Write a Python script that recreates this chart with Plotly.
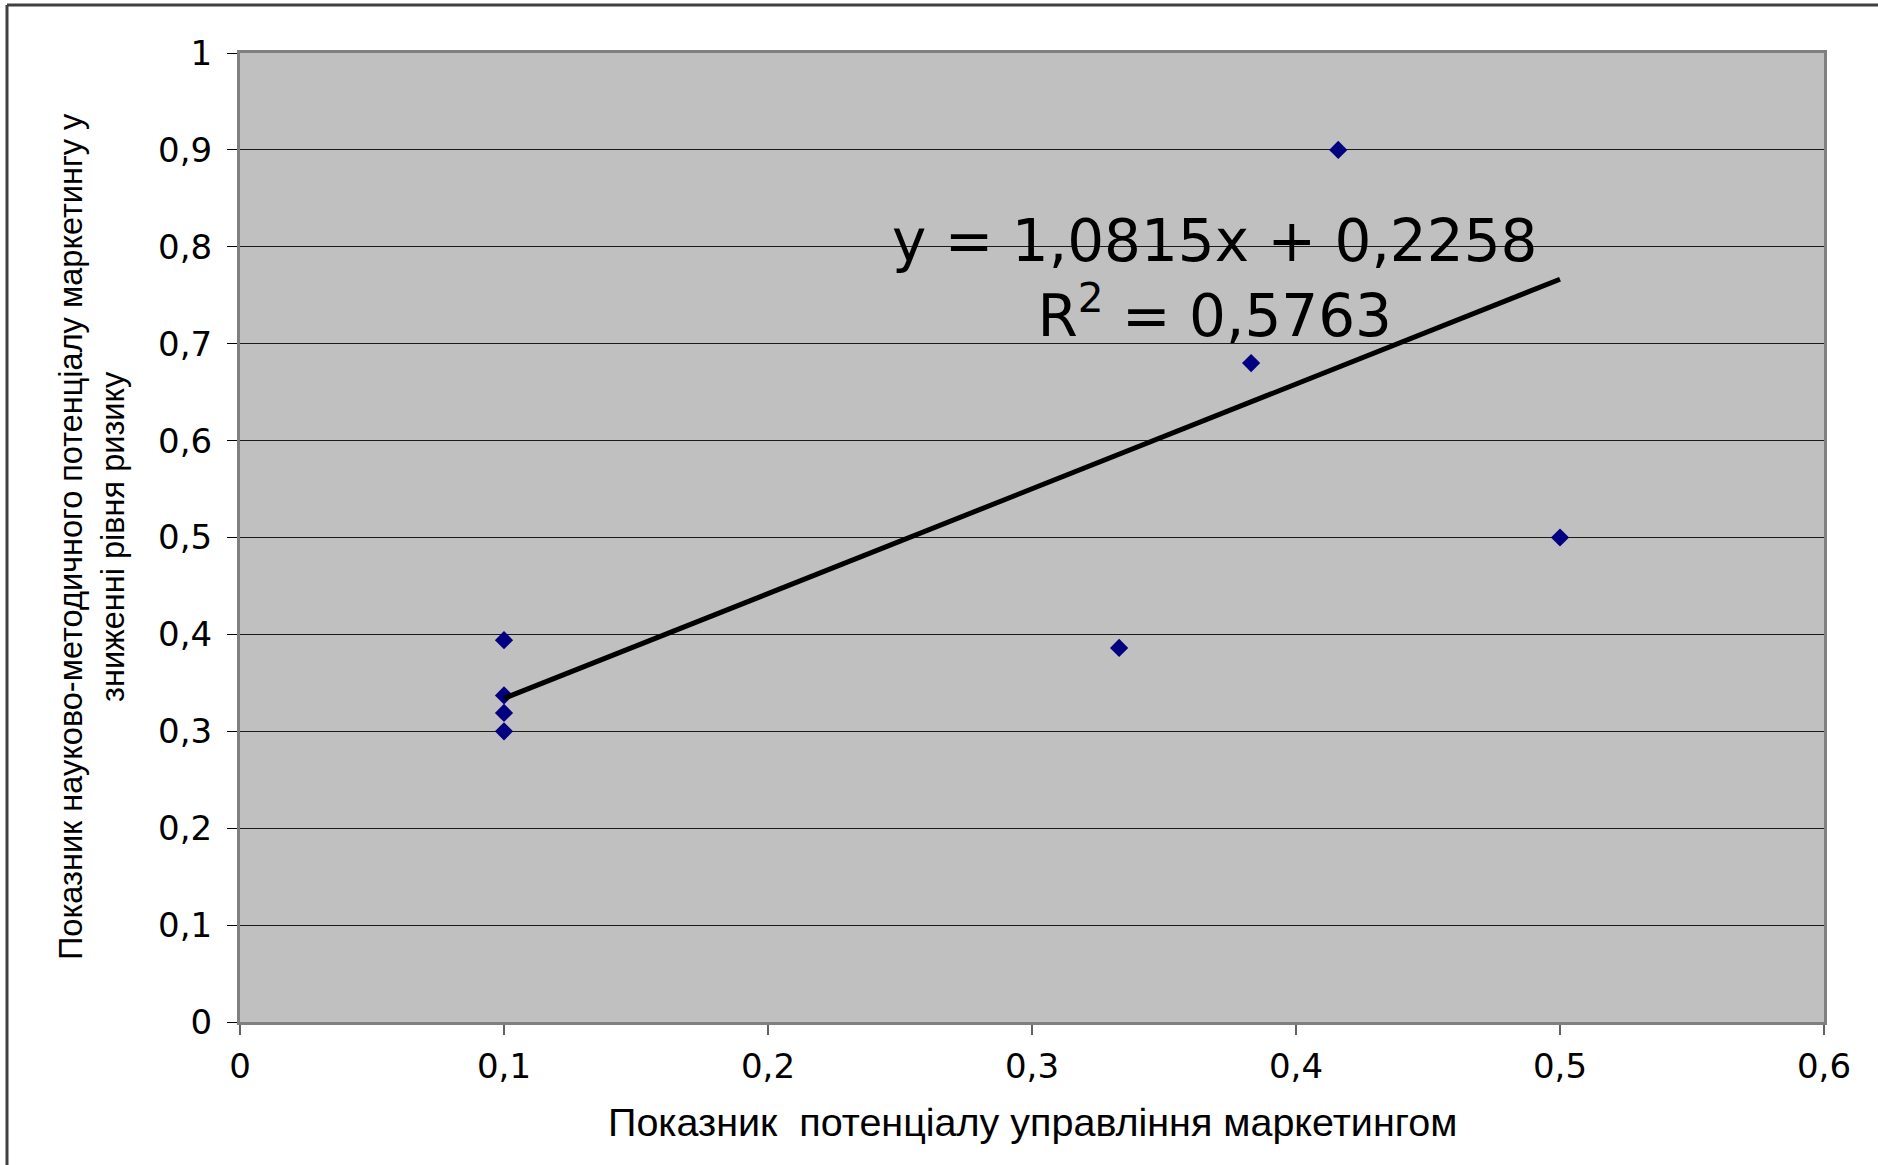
import plotly.graph_objects as go

# Observed points: management-potential index vs. scientific-methodical potential index
x_values = [0.1, 0.1, 0.1, 0.1, 0.333, 0.383, 0.416, 0.5]
y_values = [0.394, 0.337, 0.319, 0.300, 0.386, 0.680, 0.900, 0.500]

# Linear trend reported on the chart
trend_slope = 1.0815
trend_intercept = 0.2258
trend_r2 = 0.5763
trend_x = [min(x_values), max(x_values)]
trend_y = [trend_slope * v + trend_intercept for v in trend_x]

x_ticks = [0, 0.1, 0.2, 0.3, 0.4, 0.5, 0.6]
y_ticks = [0, 0.1, 0.2, 0.3, 0.4, 0.5, 0.6, 0.7, 0.8, 0.9, 1]

x_title = "Показник  потенціалу управління маркетингом"
y_title = "Показник науково-методичного потенціалу маркетингу у<br>зниженні рівня ризику"

W, H = 1878, 1165
L, R, T, B = 240, 54, 53, 143
PW, PH = W - L - R, H - T - B


def px_x(p):
    return (p - L) / PW


def px_y(p):
    return (H - B - p) / PH


fmt = lambda v: f"{v:.4f}".replace(".", ",")

fig = go.Figure()
fig.add_trace(go.Scatter(
    x=x_values, y=y_values, mode="markers",
    marker=dict(symbol="diamond", size=14, color="#000080",
                line=dict(width=0)),
    showlegend=False, hoverinfo="x+y",
))
fig.add_trace(go.Scatter(
    x=trend_x, y=trend_y, mode="lines",
    line=dict(color="black", width=5),
    showlegend=False, hoverinfo="skip",
))

fig.update_layout(
    width=W, height=H,
    margin=dict(l=L, r=R, t=T, b=B, pad=0),
    paper_bgcolor="white",
    plot_bgcolor="#C0C0C0",
    separators=", ",
    font=dict(family="DejaVu Sans", color="black"),
    xaxis=dict(
        range=[0, 0.6], tickvals=x_ticks, showgrid=False, zeroline=False,
        showline=True, mirror=True, linecolor="#808080", linewidth=3,
        ticks="outside", ticklen=10, tickwidth=1.5, tickcolor="#606060",
        tickfont=dict(family="DejaVu Sans", size=34, color="black"),
        ticklabelstandoff=2,
    ),
    yaxis=dict(
        range=[0, 1], tickvals=y_ticks, showgrid=True, gridcolor="#1a1a1a",
        gridwidth=1.2, zeroline=False,
        showline=True, mirror=True, linecolor="#808080", linewidth=3,
        ticks="outside", ticklen=10, tickwidth=1.2, tickcolor="black",
        tickfont=dict(family="DejaVu Sans", size=34, color="black"),
        ticklabelstandoff=8,
    ),
    annotations=[
        dict(
            text=f"y = {fmt(trend_slope)}x + {fmt(trend_intercept)}<br>"
                 f"R<sup>2</sup> = {fmt(trend_r2)}",
            xref="paper", yref="paper", x=px_x(1214), y=px_y(278),
            xanchor="center", yanchor="middle", showarrow=False, align="center",
            font=dict(family="DejaVu Sans", size=58, color="black"),
        ),
        dict(
            text=x_title, xref="paper", yref="paper",
            x=px_x(1032), y=px_y(1122), xanchor="center", yanchor="middle",
            showarrow=False,
            font=dict(family="Liberation Sans", size=39.5, color="black"),
        ),
        dict(
            text=y_title, xref="paper", yref="paper",
            x=px_x(92), y=px_y(537), xanchor="center", yanchor="middle",
            showarrow=False, textangle=-90, align="center",
            font=dict(family="Liberation Sans", size=32.5, color="black"),
        ),
    ],
    shapes=[
        # outer chart frame (top and left edges)
        dict(type="line", xref="paper", yref="paper",
             x0=px_x(7), x1=px_x(W + 20), y0=px_y(5), y1=px_y(5),
             line=dict(color="#404040", width=3)),
        dict(type="line", xref="paper", yref="paper",
             x0=px_x(7), x1=px_x(7), y0=px_y(5), y1=px_y(H + 20),
             line=dict(color="#404040", width=3)),
    ],
)

fig.write_html("out.html")
